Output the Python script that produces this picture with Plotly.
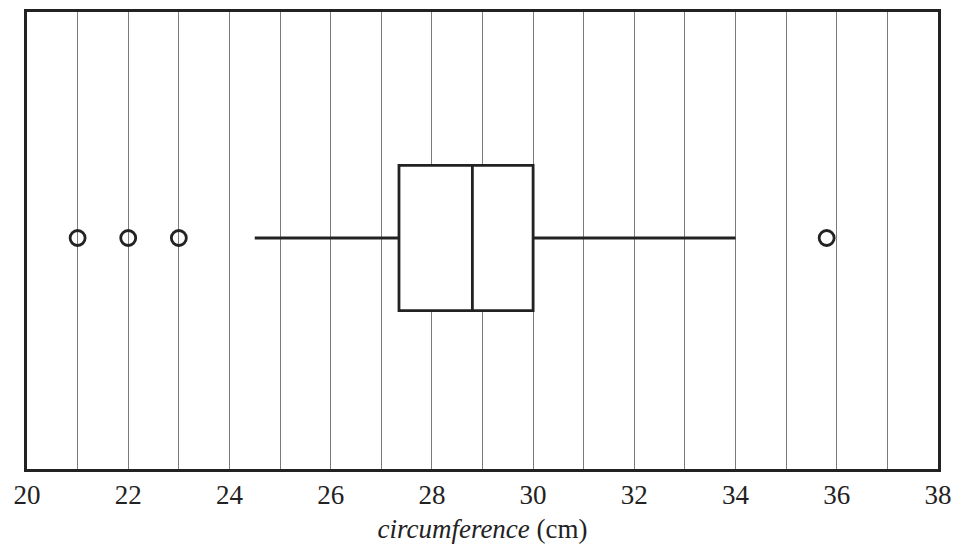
import plotly.graph_objects as go

# Box-plot summary values (cm)
q1 = [27.35]
median = [28.8]
q3 = [30.0]
lower_whisker = [24.5]
upper_whisker = [34.0]
outliers = [21.0, 22.0, 23.0, 35.8]

x_min, x_max = 20, 38

SERIF = "Liberation Serif, Times New Roman, Times, DejaVu Serif, serif"

fig = go.Figure()
fig.add_trace(go.Box(
    y=[0], q1=q1, median=median, q3=q3,
    lowerfence=lower_whisker, upperfence=upper_whisker,
    orientation="h", width=0.635, whiskerwidth=0,
    fillcolor="white", line=dict(color="#222222", width=2.8),
    boxpoints=False, showlegend=False, hoverinfo="skip",
))
fig.add_trace(go.Scatter(
    x=outliers, y=[0] * len(outliers), mode="markers",
    marker=dict(symbol="circle-open", size=15, color="#222222",
                line=dict(width=2.8, color="#222222")),
    showlegend=False, hoverinfo="skip",
))

fig.update_layout(
    width=955, height=549,
    margin=dict(l=27, r=17, t=12, b=80),
    paper_bgcolor="white", plot_bgcolor="white",
    font=dict(family=SERIF, size=27, color="#222222"),
    xaxis=dict(
        range=[x_min, x_max], tick0=20, dtick=2, automargin=False,
        showgrid=True, gridcolor="#7a7a7a", gridwidth=1,
        minor=dict(dtick=1, showgrid=True, gridcolor="#7a7a7a", gridwidth=1),
        showline=True, mirror=True, linecolor="#222222", linewidth=3,
        ticks="", ticklabelstandoff=0, zeroline=False,
        tickfont=dict(family=SERIF, size=27),
        title=dict(text="<i>circumference</i> (cm)", font=dict(family=SERIF, size=27), standoff=10),
    ),
    yaxis=dict(
        range=[-1.011, 0.989], showticklabels=False, showgrid=False, zeroline=False,
        automargin=False,
        showline=True, mirror=True, linecolor="#222222", linewidth=3, ticks="",
    ),
)

fig.write_html("out.html")
